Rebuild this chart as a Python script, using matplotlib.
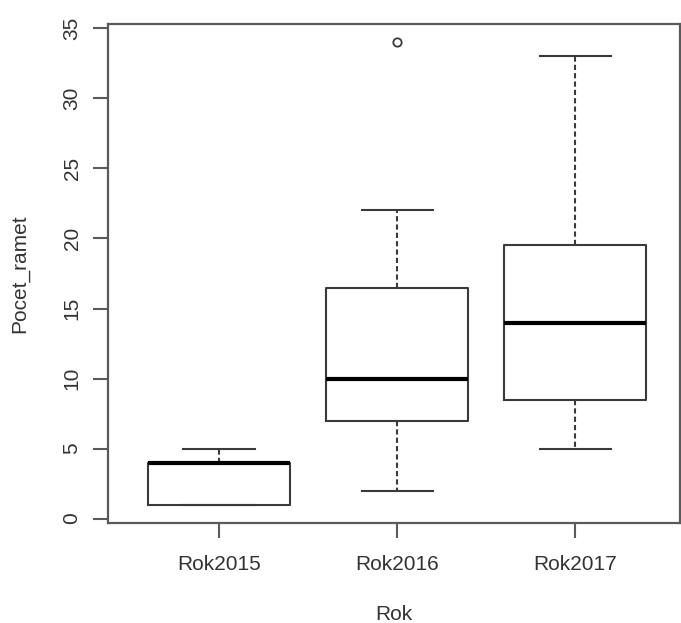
import matplotlib.pyplot as plt

# Summary statistics per year (R-style boxplot)
years = ['Rok2015', 'Rok2016', 'Rok2017']
whislo = [1, 2, 5]
q1 = [1, 7, 8.5]
med = [4, 10, 14]
q3 = [4, 16.5, 19.5]
whishi = [5, 22, 33]
fliers = [[], [34], []]

plt.rcParams['font.family'] = ['Liberation Sans', 'DejaVu Sans']

stats = []
for i, name in enumerate(years):
    stats.append(dict(label=name, whislo=whislo[i], q1=q1[i], med=med[i],
                      q3=q3[i], whishi=whishi[i], fliers=fliers[i]))

fig = plt.figure(figsize=(6.81, 6.23), dpi=100)
ax = fig.add_axes([108 / 681, 100 / 623, 572 / 681, 499 / 623])

box_col = '#3a3a3a'
ax.bxp(stats, positions=[1, 2, 3], widths=0.8, patch_artist=False,
       boxprops=dict(color=box_col, linewidth=1.5),
       medianprops=dict(color='black', linewidth=3.0, solid_capstyle='butt'),
       whiskerprops=dict(color=box_col, linewidth=1.5, linestyle=(0, (2.5, 1.5))),
       capprops=dict(color=box_col, linewidth=1.5),
       capwidths=0.4,
       flierprops=dict(marker='o', markersize=6, markerfacecolor='none',
                       markeredgecolor=box_col, markeredgewidth=1.3))

ax.set_xlim(0.376, 3.589)
ax.set_ylim(-0.32, 35.32)
ax.set_yticks([0, 5, 10, 15, 20, 25, 30, 35])
ax.set_xticks([1, 2, 3])
ax.set_xticklabels(years)

frame_col = '#5a5a5a'
for s in ax.spines.values():
    s.set_color(frame_col)
    s.set_linewidth(1.6)

ax.tick_params(axis='both', colors=frame_col, labelcolor='#333333',
               length=11, width=1.5, labelsize=15)
ax.tick_params(axis='y', labelrotation=90, pad=8)
ax.tick_params(axis='x', pad=12)
for lbl in ax.get_yticklabels():
    lbl.set_va('center')

ax.set_xlabel('Rok', fontsize=15, color='#333333', labelpad=22)
ax.set_ylabel('Pocet_ramet', fontsize=15, color='#333333', labelpad=24)

fig.savefig('out.png', dpi=100)
